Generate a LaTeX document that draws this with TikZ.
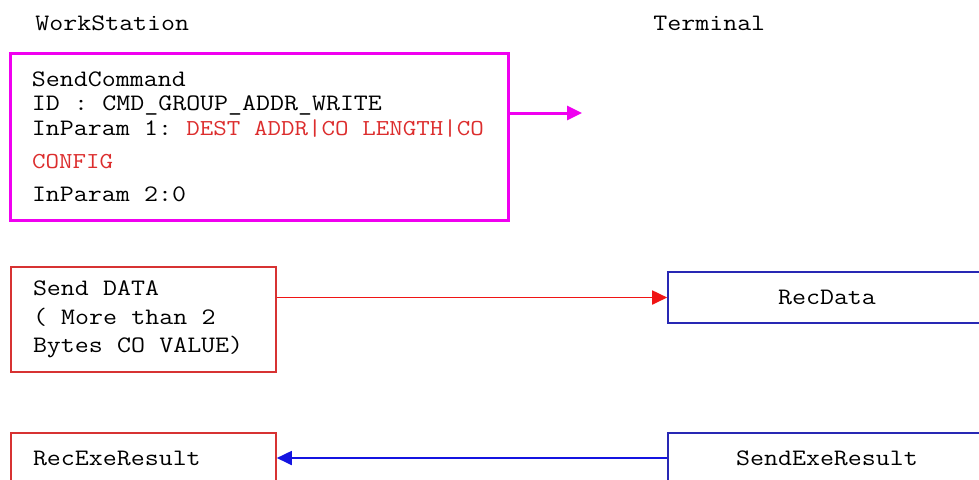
\documentclass[tikz,border=0pt]{standalone}
\usepackage{fontspec}
\setmonofont[FakeStretch=1.15]{Latin Modern Mono}
\usetikzlibrary{arrows.meta}
\definecolor{cmdmag}{RGB}{240,0,240}
\definecolor{boxred}{RGB}{215,50,50}
\definecolor{boxblue}{RGB}{40,40,180}
\definecolor{arrred}{RGB}{240,20,20}
\definecolor{arrblue}{RGB}{20,20,225}
\definecolor{txtred}{RGB}{220,45,45}
\newcommand{\fixsp}[1]{\spaceskip=#1\relax\xspaceskip=#1\relax}
\newcommand{\tsp}{\fixsp{7.12pt}}
\newcommand{\redtxt}[1]{{\fontsize{11.4}{12.25}\selectfont\fixsp{6.88pt}\color{txtred}#1}}
\tikzset{
  mono/.style={font=\ttfamily\fontsize{11.8}{#1}\selectfont\frenchspacing},
  lbl/.style={mono=12.25pt, inner sep=0pt},
  cmdbox/.style={draw=cmdmag, line width=1.5pt, mono=12.25pt, align=left,
    inner xsep=11pt, inner ysep=0pt, text width=227pt, minimum height=83.5pt},
  wsbox/.style={draw=boxred, line width=.8pt, mono=14.25pt, align=left,
    inner xsep=11pt, inner ysep=0pt, text width=110.5pt},
  tmbox/.style={draw=boxblue, line width=.8pt, mono=14.25pt, align=center,
    inner sep=0pt, minimum width=159pt},
  tip/.style={-{Triangle[length=7.5pt,width=7pt]}}
}
\begin{document}
\begin{tikzpicture}[x=0.5pt,y=-0.5pt] % ------ WorkStation / Terminal ------
  \useasboundingbox (0,0) rectangle (979,479);
  \node [lbl,anchor=base west] (ws) at (35,30) {WorkStation};
  \node [lbl,anchor=base west] (tm) at (653,30) {Terminal};
  % la commande
  \node [cmdbox] (cmd) at (259,136.5) {\tsp SendCommand\\ID : CMD\_GROUP\_ADDR\_WRITE\\
    \mbox{InParam 1: \redtxt{DEST ADDR|CO LENGTH|CO}}\\[4.25pt]\redtxt{CONFIG}\\[4.25pt]InParam 2:0};
  \coordinate (cmdend) at (582,113);
  \draw [tip,cmdmag,line width=1.5pt] (cmd.east |- cmdend) -- (cmdend);
  % les donnees
  \node [wsbox,minimum height=52.5pt] (senddata) at (143.5,319.5) {\tsp Send DATA\\( More than 2\\Bytes CO VALUE)};
  \node [tmbox,minimum height=25.5pt] (recdata) at (827,297.5) {RecData};
  \draw [tip,arrred,line width=.9pt] (senddata.east |- recdata.west) -- (recdata.west);
  % le resultat
  \node [wsbox,minimum height=25pt] (recexe) at (143.5,458) {RecExeResult};
  \node [tmbox,minimum height=25pt] (sendexe) at (827,458) {SendExeResult};
  \draw [tip,arrblue,line width=.9pt] (sendexe.west) -- (recexe.east);
\end{tikzpicture}
\end{document}
